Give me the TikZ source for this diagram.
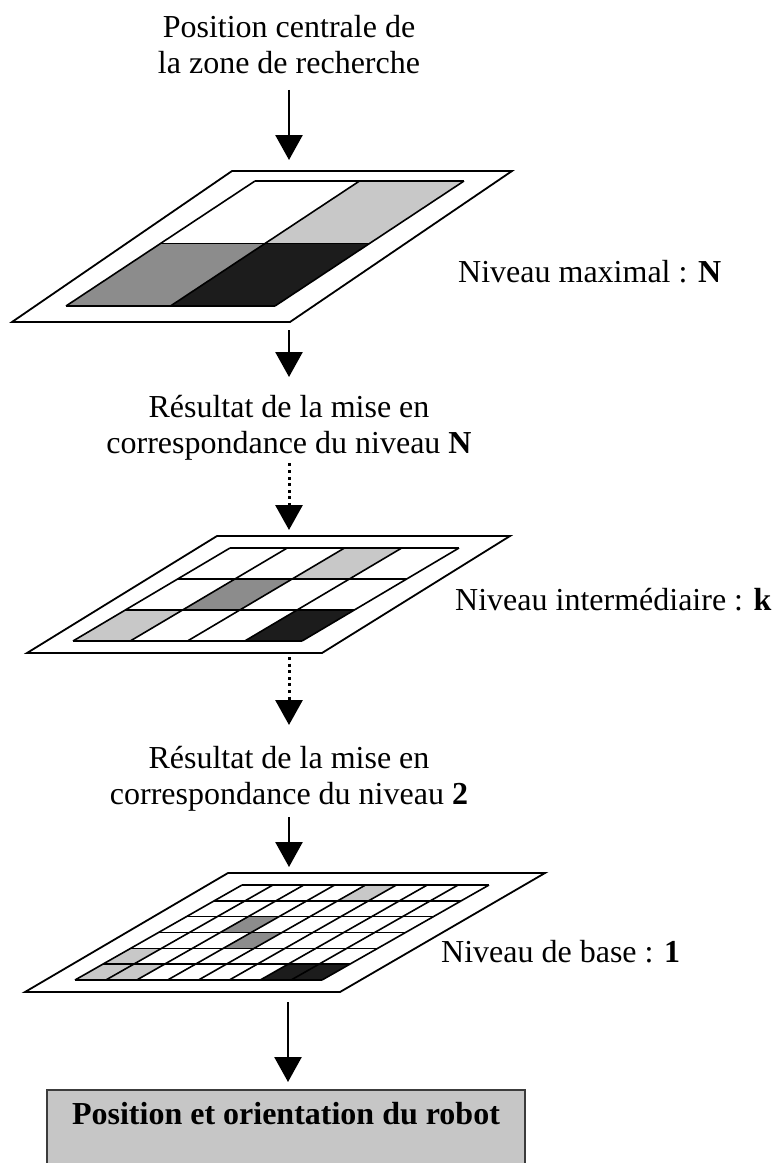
\documentclass[tikz,border=0pt]{standalone}
\usepackage{fontspec}
\setmainfont{Liberation Serif}
\usetikzlibrary{arrows.meta,positioning,calc}
\definecolor{celllight}{RGB}{200,200,200}
\definecolor{cellmid}{RGB}{140,140,140}
\definecolor{celldark}{RGB}{28,28,28}
\definecolor{boxgray}{RGB}{198,198,198}
\definecolor{boxedge}{RGB}{60,60,60}
% one cell of a slanted grid: column, row (from bottom), colour
\newcommand{\levelcell}[3]{\fill[#3] (#1,#2) -- ++(1,0) -- ++(0,1) -- ++(-1,0) -- cycle;}

\begin{document}
\begin{tikzpicture}[
    x=1pt, y=-1pt,
    every node/.style={font=\fontsize{32}{36}\selectfont, inner sep=0pt},
    caption/.style={align=center, anchor=north},
    levellabel/.style={anchor=base west},
    frame/.style={draw=black, fill=white, line width=1.8pt},
    cellline/.style={draw=black, line width=1.6pt},
    arrow/.style={-{Triangle[width=27pt,length=25pt]}, line width=2.6pt},
    dotarrow/.style={arrow, line width=3pt, dash pattern=on 3pt off 3.6pt},
    resultbox/.style={draw=boxedge, fill=boxgray, line width=2pt, anchor=north, minimum width=478pt, font=\fontsize{32}{36}\selectfont\bfseries, text height=34pt, text depth=57pt}
]
    \useasboundingbox (0,0) rectangle (773,1163);

    \node[caption] (start) at (289,15) {Position centrale de\\la zone de recherche};

    % level N
    \coordinate (n1tl) at (232,171); \coordinate (n1tr) at (512,171);
    \coordinate (n1br) at (290,322); \coordinate (n1bl) at (12,322);
    \draw[frame] (n1tl) -- (n1tr) -- (n1br) -- (n1bl) -- cycle;
    \begin{scope}[shift={(66,306)}, x=104.5pt, y=62.5pt, xslant=1.512]
        \levelcell{1}{1}{celllight}
        \levelcell{0}{0}{cellmid}
        \levelcell{1}{0}{celldark}
        \foreach \i in {0,1,2} \draw[cellline] (\i,0) -- (\i,2);
        \foreach \j in {0,1,2} \draw[cellline] (0,\j) -- (2,\j);
    \end{scope}
    \node[levellabel] (labN) at (458,282) {Niveau maximal : \textbf{N}};

    \node[caption] (resN) at (289,395) {Résultat de la mise en\\correspondance du niveau \textbf{N}};

    % level k
    \coordinate (n2tl) at (217,536); \coordinate (n2tr) at (510,536);
    \coordinate (n2br) at (322,653); \coordinate (n2bl) at (27,653);
    \draw[frame] (n2tl) -- (n2tr) -- (n2br) -- (n2bl) -- cycle;
    \begin{scope}[shift={(73,641)}, x=57.25pt, y=31pt, xslant=1.688]
        \levelcell{2}{2}{celllight}
        \levelcell{1}{1}{cellmid}
        \levelcell{0}{0}{celllight}
        \levelcell{3}{0}{celldark}
        \foreach \i in {0,...,4} \draw[cellline] (\i,0) -- (\i,3);
        \foreach \j in {0,...,3} \draw[cellline] (0,\j) -- (4,\j);
    \end{scope}
    \node[levellabel] (labk) at (455,610) {Niveau intermédiaire : \textbf{k}};

    \node[caption] (res2) at (289,746) {Résultat de la mise en\\correspondance du niveau \textbf{2}};

    % level 1
    \coordinate (n3tl) at (228,873); \coordinate (n3tr) at (545,873);
    \coordinate (n3br) at (340,992); \coordinate (n3bl) at (25,992);
    \draw[frame] (n3tl) -- (n3tr) -- (n3br) -- (n3bl) -- cycle;
    \begin{scope}[shift={(75,980)}, x=30.875pt, y=15.83pt, xslant=1.758]
        \levelcell{4}{5}{celllight}
        \levelcell{2}{3}{cellmid}
        \levelcell{3}{2}{cellmid}
        \levelcell{0}{1}{celllight}
        \levelcell{0}{0}{celllight}
        \levelcell{1}{0}{celllight}
        \levelcell{6}{0}{celldark}
        \levelcell{7}{0}{celldark}
        \foreach \i in {0,...,8} \draw[cellline] (\i,0) -- (\i,6);
        \foreach \j in {0,...,6} \draw[cellline] (0,\j) -- (8,\j);
    \end{scope}
    \node[levellabel] (lab1) at (441,962) {Niveau de base : \textbf{1}};

    \node[resultbox] (robot) at (286,1089) {Position et orientation du robot};

    % connectors
    \coordinate (n1in) at (289,160);
    \coordinate (n1out) at (289,330);
    \coordinate (n2in) at (289,530);
    \coordinate (n2out) at (289,657);
    \coordinate (n3in) at (289,867);
    \coordinate (n3out) at (288,1002);

    \draw[arrow, shorten <=16pt] (start.south) -- (n1in);
    \draw[arrow, shorten >=18pt] (n1out) -- (resN.north);
    \draw[dotarrow, shorten <=3pt] (resN.south) -- (n2in);
    \draw[dotarrow, shorten >=21pt] (n2out) -- (res2.north);
    \draw[arrow, shorten <=6pt] (res2.south) -- (n3in);
    \draw[arrow, shorten >=7pt] (n3out) -- (n3out |- robot.north);
\end{tikzpicture}
\end{document}
